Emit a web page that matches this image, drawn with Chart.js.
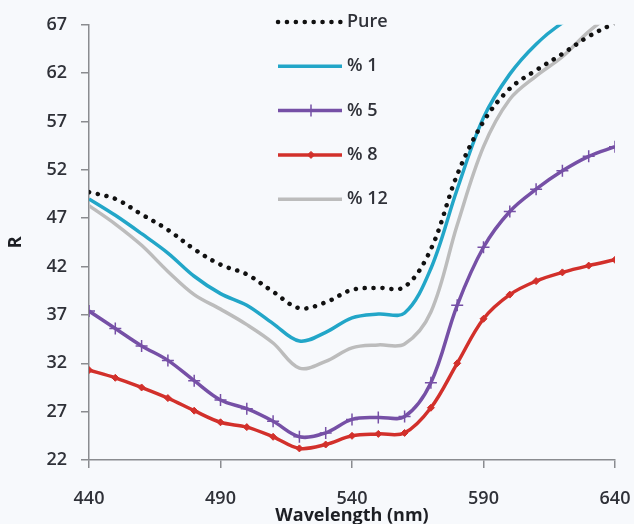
<!DOCTYPE html>
<html>
<head>
<meta charset="utf-8">
<script src="https://cdn.jsdelivr.net/npm/chart.js@4/dist/chart.umd.min.js"></script>
<style>
  html, body { margin: 0; padding: 0; background: #f7f9fc; overflow: hidden; }
  #wrap { position: relative; width: 634px; height: 524px; }
</style>
</head>
<body>
<div id="wrap"><canvas id="reflChart"></canvas></div>
<script>
// Reflectance vs wavelength, sampled every 10 nm
const wavelengths = [440, 450, 460, 470, 480, 490, 500, 510, 520, 530, 540, 550, 560, 570, 580, 590, 600, 610, 620, 630, 640];
const pure  = [49.7, 49.0, 47.4, 45.8, 43.8, 42.2, 41.2, 39.4, 37.7, 38.3, 39.6, 39.8, 39.9, 43.8, 51.5, 57.0, 60.4, 62.3, 64.0, 65.8, 67.2];
const pct1  = [49.0, 47.3, 45.4, 43.4, 41.0, 39.2, 38.0, 36.1, 34.3, 35.2, 36.7, 37.1, 37.2, 41.8, 50.0, 57.4, 61.9, 65.0, 67.2, 68.7, 70.0];
const pct5  = [37.4, 35.6, 33.8, 32.3, 30.2, 28.2, 27.3, 26.0, 24.4, 24.8, 26.2, 26.4, 26.5, 30.0, 38.0, 44.0, 47.7, 50.0, 51.9, 53.4, 54.4];
const pct8  = [31.3, 30.5, 29.5, 28.4, 27.1, 25.9, 25.4, 24.4, 23.2, 23.6, 24.5, 24.7, 24.8, 27.4, 32.0, 36.6, 39.1, 40.5, 41.4, 42.1, 42.7];
const pct12 = [48.3, 46.4, 44.2, 41.5, 39.1, 37.6, 36.0, 34.1, 31.5, 32.2, 33.6, 33.9, 34.0, 37.3, 46.3, 54.4, 59.3, 61.7, 63.7, 66.3, 68.4];
const yTicks = [22, 27, 32, 37, 42, 47, 52, 57, 62, 67];
const xTicks = [440, 490, 540, 590, 640];

const pts = arr => arr.map((v, i) => ({ x: wavelengths[i], y: v }));
const txt = '#2f3138';
const axisCol = '#8a8c90';
const fontFam = "'Open Sans', sans-serif";

// legend drawn inside the plot, stacked vertically near the top middle
const insideLegend = {
  id: 'insideLegend',
  afterDatasetsDraw(chart) {
    const ctx = chart.ctx;
    const x0 = 278, x1 = 342, top = 22, gap = 44.3;
    ctx.save();
    chart.data.datasets.forEach((ds, i) => {
      const y = top + i * gap;
      ctx.beginPath();
      ctx.strokeStyle = ds.borderColor;
      ctx.lineWidth = ds.borderWidth;
      ctx.lineCap = ds.borderCapStyle || 'butt';
      ctx.setLineDash(ds.borderDash || []);
      ctx.moveTo(x0, y);
      ctx.lineTo(x1, y);
      ctx.stroke();
      ctx.setLineDash([]);
      if (ds.pointRadius > 0) {
        ctx.fillStyle = ds.pointBackgroundColor;
        ctx.strokeStyle = ds.pointBorderColor;
        ctx.lineWidth = ds.pointBorderWidth;
        Chart.helpers.drawPoint(ctx, {
          pointStyle: ds.pointStyle, radius: ds.pointRadius,
          borderWidth: ds.pointBorderWidth, rotation: 0
        }, (x0 + x1) / 2 + 1, y);
      }
      ctx.fillStyle = txt;
      ctx.font = "600 18px " + fontFam;
      ctx.textAlign = 'left';
      ctx.textBaseline = 'middle';
      ctx.fillText(ds.label, 347, y);
    });
    ctx.restore();
  }
};

new Chart(document.getElementById('reflChart'), {
  type: 'line',
  data: {
    datasets: [
      {
        label: 'Pure', data: pts(pure),
        borderColor: '#111111', borderWidth: 4.5,
        borderDash: [0.1, 8.8], borderCapStyle: 'round',
        pointRadius: 0, tension: 0.35
      },
      {
        label: '% 1', data: pts(pct1),
        borderColor: '#22a6c8', borderWidth: 3.5,
        pointRadius: 0, tension: 0.35
      },
      {
        label: '% 5', data: pts(pct5),
        borderColor: '#7650a6', borderWidth: 3.5,
        pointStyle: 'cross', pointRadius: 6,
        pointBorderColor: '#7650a6', pointBackgroundColor: '#7650a6', pointBorderWidth: 1.5,
        tension: 0.35
      },
      {
        label: '% 8', data: pts(pct8),
        borderColor: '#d2302b', borderWidth: 3.5,
        pointStyle: 'rectRot', pointRadius: 3.5,
        pointBorderColor: '#d2302b', pointBackgroundColor: '#d2302b', pointBorderWidth: 1,
        tension: 0.35
      },
      {
        label: '% 12', data: pts(pct12),
        borderColor: '#bcbcbc', borderWidth: 3.5,
        pointRadius: 0, tension: 0.35
      }
    ]
  },
  options: {
    responsive: true,
    maintainAspectRatio: false,
    animation: false,
    layout: { padding: { top: 18, right: 19, left: 0, bottom: 0 } },
    plugins: {
      legend: { display: false },
      tooltip: { enabled: false }
    },
    elements: { line: { fill: false } },
    scales: {
      x: {
        type: 'linear', min: 440, max: 640,
        afterBuildTicks: s => { s.ticks = xTicks.map(v => ({ value: v })); },
        afterFit: s => { s.height = 64; s.paddingLeft = 0; s.paddingRight = 0; },
        grid: { drawOnChartArea: false, tickLength: 8, color: axisCol, lineWidth: 1.5 },
        border: { color: axisCol, width: 1.5 },
        ticks: { color: txt, padding: 20, maxRotation: 0, font: { family: fontFam, size: 18, weight: '600' } },
        title: {
          display: true, text: 'Wavelength (nm)', color: '#1d1f24',
          font: { family: fontFam, size: 18, weight: 'bold' }, padding: { top: 0, bottom: -3 }
        }
      },
      y: {
        min: 22, max: 67,
        afterBuildTicks: s => { s.ticks = yTicks.map(v => ({ value: v })); },
        afterFit: s => { s.width = 89; },
        grid: { drawOnChartArea: false, tickLength: 8, color: axisCol, lineWidth: 1.5 },
        border: { color: axisCol, width: 1.5 },
        ticks: { color: txt, padding: 14, font: { family: fontFam, size: 18, weight: '600' } },
        title: {
          display: true, text: 'R', color: '#1d1f24',
          font: { family: fontFam, size: 18, weight: 'bold' }, padding: { top: 5, bottom: 0 }
        }
      }
    }
  },
  plugins: [insideLegend]
});
</script>
</body>
</html>
